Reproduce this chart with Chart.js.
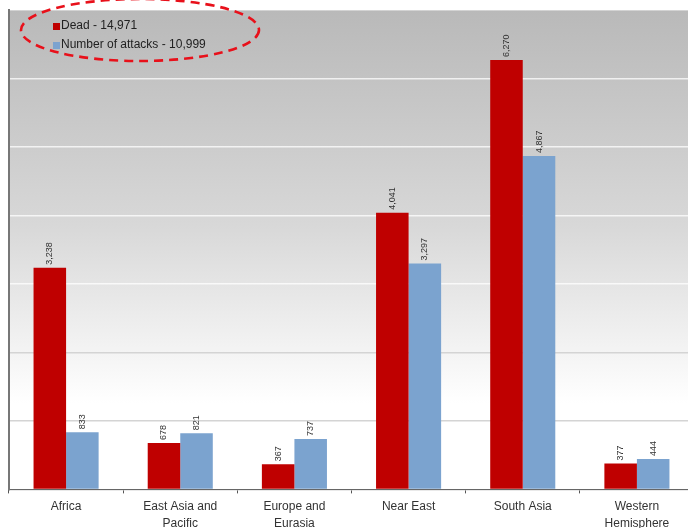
<!DOCTYPE html>
<html>
<head>
<meta charset="utf-8">
<script src="https://cdn.jsdelivr.net/npm/chart.js@4/dist/chart.umd.min.js"></script>
<style>
  html, body { margin: 0; padding: 0; background: #fff; overflow: hidden; }
  #wrap { width: 700px; height: 537px; position: relative; }
</style>
</head>
<body>
<div id="wrap"><canvas id="chart"></canvas></div>
<script>
// données
const regions = ['Africa', ['East Asia and', 'Pacific'], ['Europe and', 'Eurasia'], 'Near East', 'South Asia', ['Western', 'Hemisphere']];
const dead = [3238, 678, 367, 4041, 6270, 377];
const attacks = [833, 821, 737, 3297, 4867, 444];
const legendLabels = ['Dead - 14,971', 'Number of attacks - 10,999'];
const fmt = v => v.toLocaleString('en-US');

// fond dégradé gris -> blanc dans la zone du graphique
const bgPlugin = {
    id: 'bg',
    beforeDraw(chart) {
        const { ctx, chartArea: a } = chart;
        const g = ctx.createLinearGradient(0, a.top, 0, a.bottom);
        g.addColorStop(0, '#b9b9b9');
        g.addColorStop(0.45, '#d8d8d8');
        g.addColorStop(0.82, '#ffffff');
        g.addColorStop(1, '#ffffff');
        ctx.save();
        ctx.fillStyle = g;
        ctx.fillRect(a.left, a.top, a.right - a.left, a.bottom - a.top);
        ctx.restore();
    }
};

// étiquettes de valeurs verticales au-dessus des barres
const labelPlugin = {
    id: 'vlabels',
    afterDatasetsDraw(chart) {
        const { ctx } = chart;
        ctx.save();
        ctx.font = '9px "Liberation Sans", Arial, sans-serif';
        ctx.fillStyle = '#333';
        ctx.textAlign = 'left';
        ctx.textBaseline = 'middle';
        chart.data.datasets.forEach((ds, i) => {
            chart.getDatasetMeta(i).data.forEach((bar, j) => {
                ctx.save();
                ctx.translate(bar.x, bar.y - 3);
                ctx.rotate(-Math.PI / 2);
                ctx.fillText(fmt(ds.data[j]), 0, 0);
                ctx.restore();
            });
        });
        ctx.restore();
    }
};

// légende dans le coin + ellipse rouge en pointillés
const legendPlugin = {
    id: 'cornerLegend',
    afterDraw(chart) {
        const { ctx } = chart;
        ctx.save();
        ctx.font = '12px "Liberation Sans", Arial, sans-serif';
        ctx.textBaseline = 'middle';
        chart.data.datasets.forEach((ds, i) => {
            const y = 26 + i * 19;
            ctx.fillStyle = ds.backgroundColor;
            ctx.fillRect(53, y - 3, 7, 7);
            ctx.fillStyle = '#222';
            ctx.fillText(legendLabels[i], 61, y);
        });
        ctx.strokeStyle = '#e8101a';
        ctx.lineWidth = 2.6;
        ctx.setLineDash([9, 6]);
        ctx.beginPath();
        ctx.ellipse(140, 30, 119, 31, 0, 0, Math.PI * 2);
        ctx.stroke();
        ctx.restore();
    }
};

new Chart(document.getElementById('chart'), {
    type: 'bar',
    data: {
        labels: regions,
        datasets: [
            { label: 'Dead', data: dead, backgroundColor: '#bf0000', borderWidth: 0 },
            { label: 'Number of attacks', data: attacks, backgroundColor: '#7ba3cf', borderWidth: 0 }
        ]
    },
    options: {
        responsive: true,
        maintainAspectRatio: false,
        animation: false,
        layout: { padding: { left: 9, top: 10, right: 6, bottom: 0 } },
        plugins: {
            legend: { display: false },
            tooltip: { enabled: false }
        },
        datasets: { bar: { categoryPercentage: 0.57, barPercentage: 1 } },
        scales: {
            x: {
                offset: true,
                grid: { display: true, drawOnChartArea: false, tickLength: 4, color: '#555', offset: true },
                border: { color: '#666', width: 1 },
                ticks: {
                    color: '#333',
                    padding: 5,
                    maxRotation: 0,
                    autoSkip: false,
                    font: { size: 12, family: '"Liberation Sans", Arial, sans-serif', lineHeight: 1.4 }
                }
            },
            y: {
                min: 0,
                max: 7000,
                ticks: { display: false, stepSize: 1000 },
                border: { display: true, color: '#777', width: 2 },
                grid: {
                    drawTicks: false,
                    color: c => c.tick.value >= 3000 ? 'rgba(255,255,255,0.75)' : '#d4d4d4',
                    lineWidth: 1.5
                },
                afterFit: s => { s.width = 0; }
            }
        }
    },
    plugins: [bgPlugin, labelPlugin, legendPlugin]
});
</script>
</body>
</html>
